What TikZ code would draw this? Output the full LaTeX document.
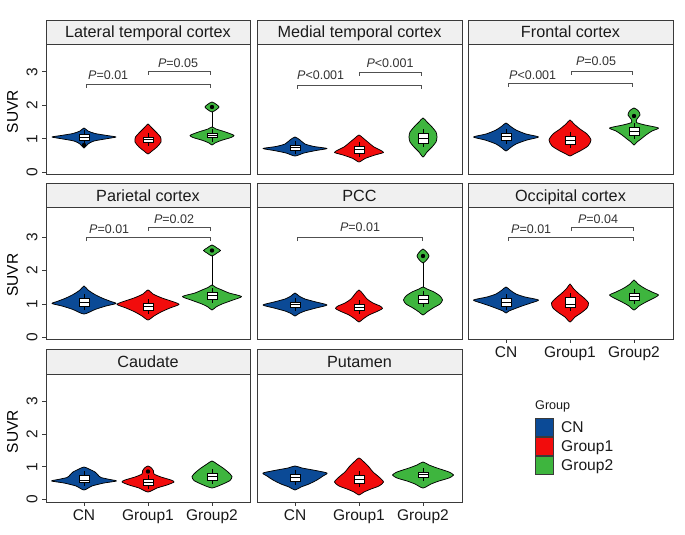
\documentclass[tikz,border=0pt]{standalone}
\usepackage{fontspec}
\setmainfont{Liberation Sans}
\definecolor{cnblue}{HTML}{0B4A96}
\definecolor{gonered}{HTML}{F20C0C}
\definecolor{gtwogreen}{HTML}{3EB53E}
\definecolor{stripfill}{HTML}{F0F0F0}
\definecolor{framecol}{HTML}{3A3A3A}
\definecolor{brackcol}{HTML}{505050}
\definecolor{txtcol}{HTML}{1A1A1A}
\definecolor{ptxt}{HTML}{333333}
\tikzset{
  panelframe/.style={draw=framecol,line width=0.9pt},
  stripframe/.style={draw=framecol,fill=stripfill,line width=0.9pt},
  striptext/.style={anchor=base,inner sep=0pt,text=txtcol,font=\fontsize{16.2}{18}\selectfont},
  violin/.style={draw=black,line width=0.75pt,line join=round},
  whisk/.style={draw=black,line width=0.8pt},
  boxw/.style={draw=black,fill=white,line width=0.8pt},
  bracket/.style={draw=brackcol,line width=0.8pt},
  pval/.style={inner sep=0pt,text=ptxt,font=\fontsize{12.5}{14}\selectfont},
  ticklab/.style={inner sep=0pt,text=txtcol,font=\fontsize{15.5}{17}\selectfont},
  axtitle/.style={inner sep=0pt,text=black,font=\fontsize{15.5}{17}\selectfont},
  tickmark/.style={draw=framecol,line width=0.8pt},
  legkey/.style={draw=framecol,line width=0.9pt},
  legtext/.style={anchor=base west,inner sep=0pt,text=txtcol,font=\fontsize{15.6}{17}\selectfont},
  legtitle/.style={anchor=base west,inner sep=0pt,text=txtcol,font=\fontsize{12.6}{14}\selectfont},
  outl/.style={fill=black},
}
% violin: #1 cx, #2 colour, #3 top y, #4 bottom y, #5 list y/halfwidth
\newcommand\mkviolin[5]{%
  \gdef\vioL{}\gdef\vioR{}%
  \foreach \yy/\ww in {#5}{%
    \pgfmathsetmacro\xl{#1-\ww}\pgfmathsetmacro\xr{#1+\ww}%
    \xdef\vioL{\vioL(\xl,\yy)}%
    \xdef\vioR{(\xr,\yy)\vioR}%
  }%
  \edef\viotmp{\noexpand\draw[violin,fill=#2] plot[smooth cycle,tension=0.42] coordinates {(#1,#3)\vioL(#1,#4)\vioR};}%
  \viotmp
}
% box: #1 cx, #2 top, #3 bottom, #4 median
\newcommand\mkbox[4]{%
  \draw[whisk] (#1,#2-4) -- (#1,#3+4);
  \draw[boxw] (#1-5,#2) rectangle (#1+5,#3);
  \draw[whisk] (#1-5,#4) -- (#1+5,#4);
}
% bracket: #1 x1, #2 x2, #3 y
\newcommand\mkbracket[3]{%
  \draw[bracket] (#1,#3+3.5) -- (#1,#3) -- (#2,#3) -- (#2,#3+3.5);
}
% panel: #1 name, #2 x0, #3 x1, #4 top, #5 strip bottom, #6 bottom, #7 title
\newcommand\mkpanel[7]{%
  \draw[panelframe] (#2,#5) rectangle (#3,#6);
  \draw[stripframe] (#2,#4) rectangle (#3,#5);
  \node[striptext] (#1) at ({(#2+#3)/2},{(#4+#5)/2+5.7}) {#7};
}
\begin{document}
\begin{tikzpicture}[x=1pt,y=-1pt]
\useasboundingbox[fill=white] (0,0) rectangle (685,535);

% ---------- panels ----------
\mkpanel{tlat}{46}{250}{20}{44.5}{174}{Lateral temporal cortex}
\mkpanel{tmed}{257}{462}{20}{44.5}{174}{Medial temporal cortex}
\mkpanel{tfro}{468}{673}{20}{44.5}{174}{Frontal cortex}
\mkpanel{tpar}{46}{250}{183.3}{207.5}{339}{Parietal cortex}
\mkpanel{tpcc}{257}{462}{183.3}{207.5}{339}{PCC}
\mkpanel{tocc}{468}{673}{183.3}{207.5}{339}{Occipital cortex}
\mkpanel{tcau}{46}{250}{349.5}{374}{502}{Caudate}
\mkpanel{tput}{257}{462}{349.5}{374}{502}{Putamen}

% ---------- y axes ----------
\foreach \v/\yy in {0/172.3,1/138.8,2/105.3,3/71.8}{
  \draw[tickmark] (42,\yy) -- (46,\yy);
  \node[ticklab,rotate=90] (ya\v) at (32,\yy) {\v};
}
\foreach \v/\yy in {0/337.3,1/303.9,2/270.5,3/237.1}{
  \draw[tickmark] (42,\yy) -- (46,\yy);
  \node[ticklab,rotate=90] (yb\v) at (32,\yy) {\v};
}
\foreach \v/\yy in {0/499.4,1/466.7,2/434.2,3/401.2}{
  \draw[tickmark] (42,\yy) -- (46,\yy);
  \node[ticklab,rotate=90] (yc\v) at (32,\yy) {\v};
}
\node[axtitle,rotate=90] (suvra) at (12.5,111.5) {SUVR};
\node[axtitle,rotate=90] (suvrb) at (12.5,275) {SUVR};
\node[axtitle,rotate=90] (suvrc) at (12.5,431.5) {SUVR};

% ---------- x axes ----------
\foreach \xx/\lab/\nm in {506/CN/a,570/Group1/b,634/Group2/c}{
  \draw[tickmark] (\xx,339) -- (\xx,343);
  \node[ticklab,anchor=base] (xo\nm) at (\xx,357) {\lab};
}
\foreach \xx/\lab/\nm in {84/CN/a,148/Group1/b,212/Group2/c}{
  \draw[tickmark] (\xx,502) -- (\xx,506);
  \node[ticklab,anchor=base] (xc\nm) at (\xx,520) {\lab};
}
\foreach \xx/\lab/\nm in {295/CN/a,359/Group1/b,423/Group2/c}{
  \draw[tickmark] (\xx,502) -- (\xx,506);
  \node[ticklab,anchor=base] (xp\nm) at (\xx,520) {\lab};
}

% ---------- Lateral temporal ----------
\mkviolin{84}{cnblue}{128}{148}{131/4,133.5/11,135.5/23,137/32,138.5/24,141/10,144/4}
\mkbox{84}{134}{140}{137}
\fill[outl] (84,145) circle (2.2);
\mkviolin{148}{gonered}{124}{154}{127/3,132/8,137/12.5,142/13,147/9,151/4}
\mkbox{148}{137}{142}{139.5}
\draw[violin] (212,111) -- (212,128);
\mkviolin{212}{gtwogreen}{127}{145}{129/4,131.5/12,134/19,135.5/22,137.5/19,140.5/9,143/3}
\mkviolin{212}{gtwogreen}{102}{112}{104.5/4.5,107/7,109.5/4.5}
\fill[outl] (212,107) circle (2.2);
\mkbox{212}{133}{137.5}{135}
\mkbracket{86}{210}{84}
\mkbracket{148}{210}{71}
\node[pval,anchor=base west] (plata) at (88,80) {\textit{P}=0.01};
\node[pval,anchor=base] (platb) at (178,67) {\textit{P}=0.05};

% ---------- Medial temporal ----------
\mkviolin{295}{cnblue}{137}{156}{140/5,144/10,146.5/19,148.5/32,150.5/21,153/9}
\mkbox{295}{145}{150}{147.5}
\mkviolin{359}{gonered}{135}{162}{138/4,143/10,147/15,150/21,152.5/24.5,155/16,158.5/6}
\mkbox{359}{146}{153}{149.5}
\mkviolin{423}{gtwogreen}{118}{157}{122/4,127/9,132/13,137/14,142/13,147/9,152/4}
\mkbox{423}{133}{143}{138}
\mkbracket{297}{421}{85}
\mkbracket{359}{421}{72}
\node[pval,anchor=base west] (pmeda) at (297,80) {\textit{P}<0.001};
\node[pval,anchor=base] (pmedb) at (390,67) {\textit{P}<0.001};

% ---------- Frontal ----------
\mkviolin{506}{cnblue}{123}{151}{126/4,130/10,134/20,137/32.5,140/21,144/10,148/4}
\mkbox{506}{133}{140}{136.5}
\mkviolin{570}{gonered}{120}{156}{124/4,129/10,134/17,140/21,146/18,151/10,154/4}
\mkbox{570}{136}{144}{140}
\mkviolin{634}{gtwogreen}{108}{145}{111/4.5,115/6,119/3,122.5/2.5,125/11,128/24.5,131/18,135/12,139/7,142/3}
\fill[outl] (634,116) circle (2.2);
\mkbox{634}{127}{135}{131}
\mkbracket{508}{632}{83}
\mkbracket{571}{632}{71}
\node[pval,anchor=base west] (pfroa) at (509,79) {\textit{P}<0.001};
\node[pval,anchor=base] (pfrob) at (596,66) {\textit{P}=0.05};

% ---------- Parietal ----------
\mkviolin{84}{cnblue}{286}{314}{290/4,294/10,298/18,301.5/27,303.5/32,306/22,309.5/11}
\mkbox{84}{298}{306}{302}
\mkviolin{148}{gonered}{290}{320}{294/5,298/14,302/26,304.5/31,308/22,312/13,316/6}
\mkbox{148}{303}{310}{306.5}
\draw[violin] (212,255) -- (212,286);
\mkviolin{212}{gtwogreen}{285}{310}{287.5/4,290/10,293/17,296.5/29.5,300/21,304/10,307/4}
\mkviolin{212}{gtwogreen}{245}{256}{248/5,250.5/8.5,253/5}
\fill[outl] (212,250.5) circle (2.2);
\mkbox{212}{292}{299}{295.5}
\mkbracket{86}{210}{237.7}
\mkbracket{148}{210}{227.7}
\node[pval,anchor=base west] (ppara) at (89,233) {\textit{P}=0.01};
\node[pval,anchor=base] (pparb) at (174,223) {\textit{P}=0.02};

% ---------- PCC ----------
\mkviolin{295}{cnblue}{293}{316}{296/4,299/10,302/21,305/32,308/21,311/10,313.5/4}
\mkbox{295}{302}{307}{304.5}
\mkviolin{359}{gonered}{290}{322}{294/4,299/8,303/14,306/21,308.5/23.5,311.5/18,315/10,319/4}
\mkbox{359}{304}{310}{307}
\draw[violin] (423,262) -- (423,288);
\mkviolin{423}{gtwogreen}{287}{315}{289/4,292/11,296/17,300/19.5,304/17,308/10,312/4}
\mkviolin{423}{gtwogreen}{249}{263}{252.5/4,256/6,259.5/4}
\fill[outl] (423,256) circle (2.2);
\mkbox{423}{295}{303}{299}
\mkbracket{297}{422}{237.7}
\node[pval,anchor=base] (ppcc) at (360,231) {\textit{P}=0.01};

% ---------- Occipital ----------
\mkviolin{506}{cnblue}{287}{313}{290/4,294/10,297/19,300/32.5,303/25,306/16,309/8,311/3}
\mkbox{506}{298}{306}{302}
\mkviolin{570}{gonered}{284}{322}{288/3,293/8,298/14,303/18.5,308/17,313/11,317/5}
\mkbox{570}{297}{307}{304}
\mkviolin{634}{gtwogreen}{280}{310}{284/4,288/10,292/18,295/24.5,298/20,302/12,306/5}
\mkbox{634}{293}{300}{296}
\mkbracket{508}{633}{237.7}
\mkbracket{571}{633}{227.7}
\node[pval,anchor=base west] (pocca) at (511,233) {\textit{P}=0.01};
\node[pval,anchor=base] (poccb) at (598,223) {\textit{P}=0.04};

% ---------- Caudate ----------
\mkviolin{84}{cnblue}{467}{490}{469/5,472/11,475/14,477.5/17,479.5/26,481/32.5,483/20,486/8}
\mkbox{84}{475}{482}{480}
\mkviolin{148}{gonered}{466}{492}{468/3.5,471/5.5,474/6,477/13,480/23,482/26,485/19,488/9}
\fill[outl] (148,471.5) circle (2.2);
\mkbox{148}{479}{485}{482}
\mkviolin{212}{gtwogreen}{461}{488}{464/5,468/11,472/16,476.5/20,480.5/18,484/11,486.5/5}
\mkbox{212}{473}{480}{476.5}

% ---------- Putamen ----------
\mkviolin{295}{cnblue}{466}{490}{468/7,470/18,473/32,476/28,480/22,484/14,487/6}
\mkbox{295}{474}{481}{477.5}
\mkviolin{359}{gonered}{458}{495}{462/5,467/10,472/14,477/20,482/24.5,486/20,489/12,492/5}
\mkbox{359}{475}{483}{479}
\mkviolin{423}{gtwogreen}{462}{488}{465/6,468/14,472/26,475/30.5,478/26,481/16,484/8}
\mkbox{423}{472}{477}{474.5}

% ---------- legend ----------
\node[legtitle] (legt) at (535,409) {Group};
\draw[legkey,fill=cnblue] (535,418) rectangle (553,436);
\draw[legkey,fill=gonered] (535,437) rectangle (553,455);
\draw[legkey,fill=gtwogreen] (535,456) rectangle (553,474);
\node[legtext] (lega) at (561,432.6) {CN};
\node[legtext] (legb) at (561,451.6) {Group1};
\node[legtext] (legc) at (561,470.6) {Group2};
\end{tikzpicture}
\end{document}
